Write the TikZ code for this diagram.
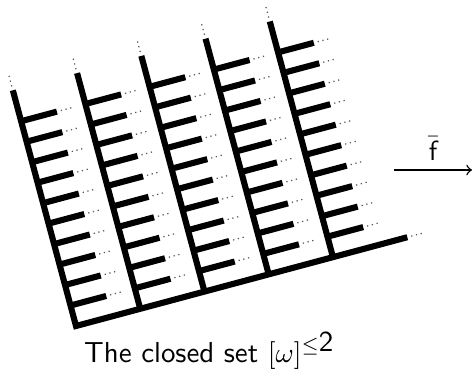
\documentclass[tikz,border=0pt]{standalone}
\begin{document}
\begin{tikzpicture}[x=0.36pt,y=0.36pt,
  bar/.style={line width=2.2pt},
  dots/.style={line width=0.45pt, black!65, dash pattern=on 0.45pt off 1.3pt},
  arr/.style={->, line width=0.5pt}]
\useasboundingbox (0,0) rectangle (474,-370);
\begin{scope}[shift={(76,-326)},rotate=15]
  \draw[bar, line join=miter] (0,244) -- (0,0) -- (343,0);
  \draw[dots] (0,248) -- (0,259);
  \draw[dots] (347,0) -- (359,0);
  \foreach \i in {1,...,4} {
    \draw[bar] (66.5*\i,244) -- (66.5*\i,0);
    \draw[dots] (66.5*\i,248) -- (66.5*\i,259);
  }
  \foreach \i in {0,...,4} {
    \foreach \k in {1,...,10} {
      \draw[bar] (66.5*\i,21.2*\k) -- ++(37,0);
      \draw[dots] (66.5*\i+41,21.2*\k) -- ++(11,0);
    }
  }
\end{scope}
\node[font=\fontsize{10.4}{12}\selectfont\sffamily, anchor=base] (cap) at (209.5,-362) {The closed set $[\omega]^{\le\textsf{2}}$};
\coordinate (p) at (394,-170);
\coordinate (q) at (472,-170);
\draw[arr] (p) -- node[above, font=\sffamily] (lab) {$\bar{\textsf{f}}$} (q);
\end{tikzpicture}
\end{document}
